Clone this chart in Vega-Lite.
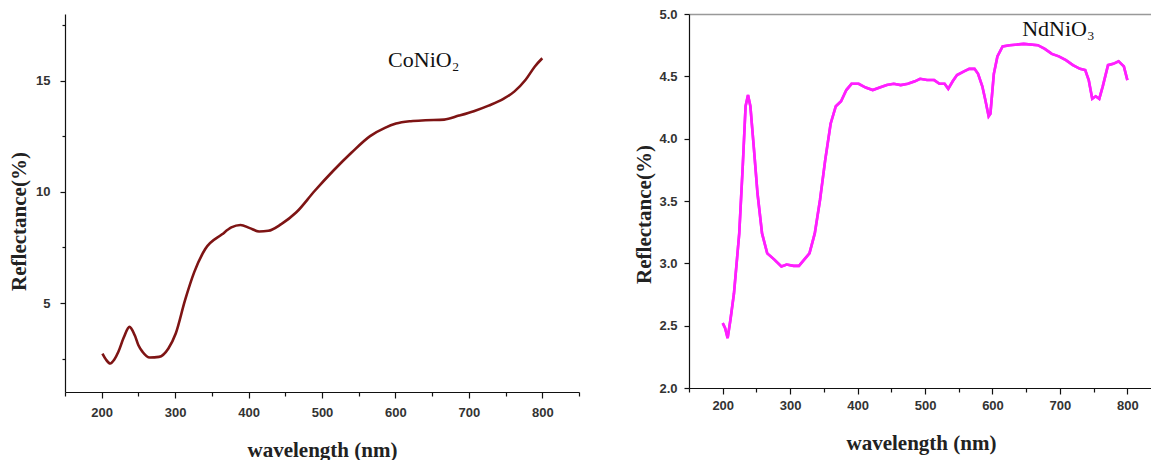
{
  "$schema": "https://vega.github.io/schema/vega-lite/v6.json",
  "padding": {"left": 8, "top": 8, "right": 0, "bottom": 0},
  "background": "white",
  "spacing": 53,
  "datasets": {
    "coniO2": [
      {"wl": 201, "r": 2.73}, {"wl": 206, "r": 2.45}, {"wl": 211.6, "r": 2.28}, {"wl": 217, "r": 2.45}, {"wl": 222.7, "r": 2.81},
      {"wl": 230, "r": 3.45}, {"wl": 237.8, "r": 3.93}, {"wl": 245, "r": 3.55}, {"wl": 250, "r": 3.1}, {"wl": 255.5, "r": 2.81},
      {"wl": 265.5, "r": 2.55}, {"wl": 278, "r": 2.58}, {"wl": 290.8, "r": 2.96}, {"wl": 300.8, "r": 3.63},
      {"wl": 313.4, "r": 5.12}, {"wl": 326, "r": 6.39}, {"wl": 341, "r": 7.43}, {"wl": 363.9, "r": 8.09},
      {"wl": 376.5, "r": 8.40}, {"wl": 389, "r": 8.51}, {"wl": 401.7, "r": 8.37}, {"wl": 414.3, "r": 8.22},
      {"wl": 426.9, "r": 8.25}, {"wl": 444.5, "r": 8.55}, {"wl": 464.7, "r": 9.07}, {"wl": 489.9, "r": 10.04},
      {"wl": 515, "r": 10.94}, {"wl": 540, "r": 11.76}, {"wl": 565.5, "r": 12.51}, {"wl": 585.7, "r": 12.88},
      {"wl": 600.8, "r": 13.07}, {"wl": 621, "r": 13.18}, {"wl": 641, "r": 13.22}, {"wl": 666.4, "r": 13.25},
      {"wl": 686.6, "r": 13.43}, {"wl": 706.7, "r": 13.63}, {"wl": 726.9, "r": 13.88}, {"wl": 747, "r": 14.18},
      {"wl": 762.2, "r": 14.52}, {"wl": 777.3, "r": 15.04}, {"wl": 789.9, "r": 15.64}, {"wl": 800, "r": 16.01}
    ],
    "ndnio3": [
      {"wl": 200, "r": 2.52}, {"wl": 203.6, "r": 2.48}, {"wl": 207.3, "r": 2.40}, {"wl": 211.5, "r": 2.55},
      {"wl": 216.7, "r": 2.76}, {"wl": 224.5, "r": 3.24}, {"wl": 229.7, "r": 3.78}, {"wl": 233.9, "r": 4.26},
      {"wl": 237.5, "r": 4.35}, {"wl": 241, "r": 4.26}, {"wl": 246.4, "r": 3.91}, {"wl": 251.6, "r": 3.56},
      {"wl": 258.3, "r": 3.24}, {"wl": 266, "r": 3.08}, {"wl": 276.6, "r": 3.03}, {"wl": 287, "r": 2.975},
      {"wl": 294.8, "r": 2.99}, {"wl": 305, "r": 2.98}, {"wl": 313, "r": 2.98}, {"wl": 320.8, "r": 3.03},
      {"wl": 328.6, "r": 3.08}, {"wl": 336.5, "r": 3.24}, {"wl": 344.3, "r": 3.51}, {"wl": 352, "r": 3.83},
      {"wl": 360, "r": 4.12}, {"wl": 367.7, "r": 4.26}, {"wl": 375.5, "r": 4.30}, {"wl": 383.3, "r": 4.39},
      {"wl": 391, "r": 4.44}, {"wl": 401.6, "r": 4.44}, {"wl": 412, "r": 4.41}, {"wl": 422.4, "r": 4.39},
      {"wl": 432.8, "r": 4.41}, {"wl": 443.2, "r": 4.43}, {"wl": 453.6, "r": 4.44}, {"wl": 464, "r": 4.43},
      {"wl": 474.5, "r": 4.44}, {"wl": 484.9, "r": 4.46}, {"wl": 492.7, "r": 4.48}, {"wl": 503, "r": 4.47},
      {"wl": 513.5, "r": 4.47}, {"wl": 521.4, "r": 4.44}, {"wl": 529, "r": 4.44}, {"wl": 534.4, "r": 4.40},
      {"wl": 541, "r": 4.46}, {"wl": 547.4, "r": 4.51}, {"wl": 557.8, "r": 4.54}, {"wl": 565.6, "r": 4.56},
      {"wl": 573.4, "r": 4.56}, {"wl": 578.6, "r": 4.52}, {"wl": 584.9, "r": 4.42}, {"wl": 589, "r": 4.32},
      {"wl": 594.3, "r": 4.18}, {"wl": 596.9, "r": 4.20}, {"wl": 602, "r": 4.52}, {"wl": 607.3, "r": 4.66},
      {"wl": 615, "r": 4.74}, {"wl": 625.5, "r": 4.75}, {"wl": 646.4, "r": 4.76}, {"wl": 667.2, "r": 4.75},
      {"wl": 677.6, "r": 4.72}, {"wl": 688, "r": 4.68}, {"wl": 698.4, "r": 4.66}, {"wl": 708.9, "r": 4.63},
      {"wl": 719.3, "r": 4.59}, {"wl": 729.7, "r": 4.56}, {"wl": 737.5, "r": 4.55}, {"wl": 742.7, "r": 4.47},
      {"wl": 747.9, "r": 4.32}, {"wl": 753, "r": 4.34}, {"wl": 758.3, "r": 4.32}, {"wl": 763.5, "r": 4.42},
      {"wl": 771.3, "r": 4.59}, {"wl": 779, "r": 4.60}, {"wl": 787, "r": 4.62}, {"wl": 794.8, "r": 4.58},
      {"wl": 800, "r": 4.47}
    ],
    "labelL": [{"wl": 590, "r": 15.6, "t": "CoNiO₂"}],
    "labelR": [{"wl": 644, "r": 4.82, "t": "NdNiO₃"}]
  },
  "config": {
    "view": {"stroke": null},
    "axis": {
      "domainColor": "#111",
      "domainWidth": 1.2,
      "tickColor": "#111",
      "tickWidth": 1.2,
      "grid": false,
      "labelOverlap": false,
      "labelFont": "Liberation Sans",
      "labelFontWeight": "bold",
      "labelFontSize": 13,
      "labelColor": "#333",
      "titleFont": "Liberation Serif",
      "titleFontWeight": "bold",
      "titleFontSize": 21,
      "titleColor": "#222"
    }
  },
  "hconcat": [
    {
      "width": 514,
      "height": 378,
      "resolve": {"axis": {"x": "independent"}},
      "layer": [
        {
          "data": {"name": "coniO2"},
          "mark": {"type": "line", "color": "#7e1414", "strokeWidth": 2.6, "interpolate": "monotone"},
          "encoding": {
            "x": {"field": "wl", "type": "quantitative", "scale": {"domain": [150, 850], "nice": false},
              "axis": {"title": "wavelength (nm)", "values": [150,200,250,300,350,400,450,500,550,600,650,700,750,800,850],
                "labelExpr": "datum.value % 100 === 0 ? datum.label : ''",
                "tickSize": {"condition": {"test": "datum.value % 100 === 0", "value": 6}, "value": 4},
                "labelPadding": 8, "titlePadding": 20}},
            "y": {"field": "r", "type": "quantitative", "scale": {"domain": [1, 18], "nice": false, "zero": false},
              "axis": {"title": "Reflectance(%)", "values": [2.5,5,7.5,10,12.5,15,17.5],
                "labelExpr": "datum.value % 5 === 0 ? datum.label : ''",
                "tickSize": {"condition": {"test": "datum.value % 5 === 0", "value": 5}, "value": 3},
                "labelPadding": 10, "titlePadding": 6, "titleY": 207}}
          }
        },
        {
          "data": {"name": "labelL"},
          "mark": {"type": "text", "font": "Liberation Serif", "fontSize": 22, "align": "left", "baseline": "alphabetic", "color": "#111"},
          "encoding": {
            "x": {"field": "wl", "type": "quantitative", "axis": null},
            "y": {"field": "r", "type": "quantitative"},
            "text": {"field": "t"}
          }
        }
      ]
    },
    {
      "width": 464,
      "height": 374,
      "resolve": {"axis": {"x": "independent"}},
      "layer": [
        {
          "data": {"name": "ndnio3"},
          "mark": {"type": "line", "color": "#ff1fff", "strokeWidth": 2.6},
          "encoding": {
            "x": {"field": "wl", "type": "quantitative", "scale": {"domain": [150, 838], "nice": false},
              "axis": {"title": "wavelength (nm)", "values": [150,200,250,300,350,400,450,500,550,600,650,700,750,800],
                "labelExpr": "datum.value % 100 === 0 ? datum.label : ''",
                "tickSize": {"condition": {"test": "datum.value % 100 === 0", "value": 6}, "value": 4},
                "labelPadding": 5, "titlePadding": 20}},
            "y": {"field": "r", "type": "quantitative", "scale": {"domain": [2, 5], "nice": false, "zero": false},
              "axis": {"title": "Reflectance(%)", "values": [2,2.25,2.5,2.75,3,3.25,3.5,3.75,4,4.25,4.5,4.75,5],
                "labelExpr": "datum.value % 0.5 === 0 ? format(datum.value, '.1f') : ''",
                "tickSize": {"condition": {"test": "datum.value % 0.5 === 0", "value": 5}, "value": 3},
                "labelPadding": 7, "titlePadding": 4, "titleY": 200}}
          }
        },
        {
          "data": {"name": "ndnio3"},
          "mark": {"type": "line", "color": "#ff1fff", "strokeWidth": 2.6},
          "encoding": {
            "x": {"field": "wl", "type": "quantitative",
              "axis": {"orient": "top", "title": null, "labels": false, "ticks": false, "domainColor": "#999", "domainWidth": 1.5}},
            "y": {"field": "r", "type": "quantitative"}
          }
        },
        {
          "data": {"name": "labelR"},
          "mark": {"type": "text", "font": "Liberation Serif", "fontSize": 22, "align": "left", "baseline": "alphabetic", "color": "#111"},
          "encoding": {
            "x": {"field": "wl", "type": "quantitative", "axis": null},
            "y": {"field": "r", "type": "quantitative"},
            "text": {"field": "t"}
          }
        }
      ]
    }
  ]
}
